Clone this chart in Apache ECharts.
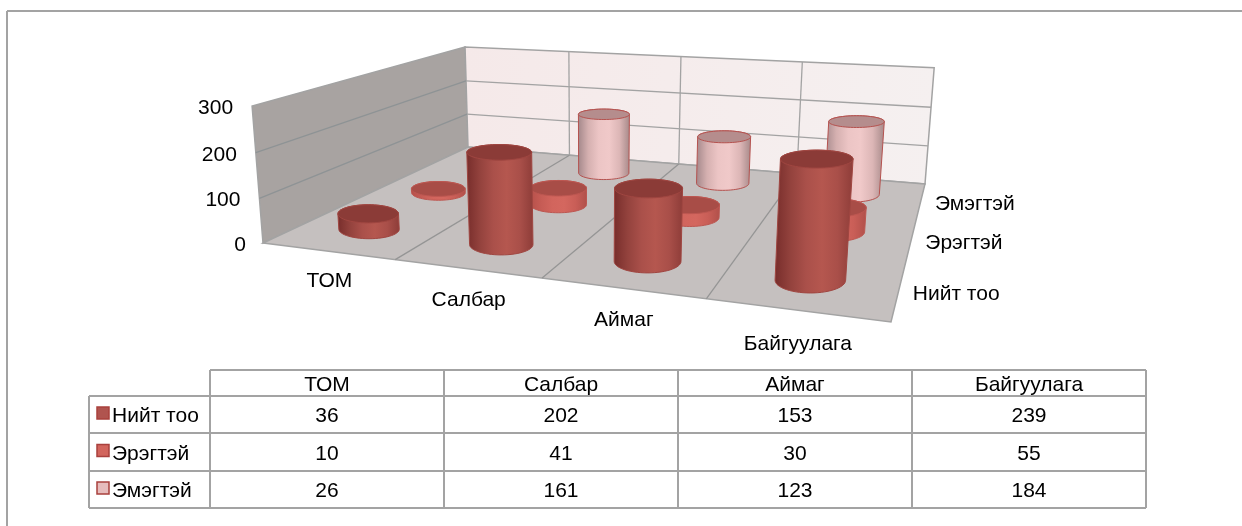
<!DOCTYPE html>
<html>
<head>
<meta charset="utf-8">
<title>chart</title>
<style>
  html, body { margin: 0; padding: 0; background: #fff; }
  #main { width: 1242px; height: 526px; }
</style>
<script src="https://cdn.jsdelivr.net/npm/echarts@6/dist/echarts.min.js"></script>
</head>
<body>
<div id="main"></div>
<script>
const categories = ['ТОМ', 'Салбар', 'Аймаг', 'Байгуулага']
const seriesNames = ['Нийт тоо', 'Эрэгтэй', 'Эмэгтэй']
const total = [36, 202, 153, 239]
const male = [10, 41, 30, 55]
const female = [26, 161, 123, 184]
const yTicks = [0, 100, 200, 300]

const FONT = '21px "Liberation Sans", Arial, sans-serif'
const LINE = '#a3a3a3'

// floor corners of the 3d box as they land on screen
const FL = [263, 243], FR = [891, 322], BR = [925, 184], BL = [468, 147]
// vertical edges of the box meet here, far below the page
const VP = [593, 4388]

// square -> quad homography
function makeFloor() {
  let dx1 = FR[0] - BR[0], dx2 = BL[0] - BR[0], sx = FL[0] - FR[0] + BR[0] - BL[0]
  let dy1 = FR[1] - BR[1], dy2 = BL[1] - BR[1], sy = FL[1] - FR[1] + BR[1] - BL[1]
  let den = dx1 * dy2 - dx2 * dy1
  let g = (sx * dy2 - dx2 * sy) / den
  let h = (dx1 * sy - sx * dy1) / den
  return {
    a: FR[0] - FL[0] + g * FR[0], b: BL[0] - FL[0] + h * BL[0], c: FL[0],
    d: FR[1] - FL[1] + g * FR[1], e: BL[1] - FL[1] + h * BL[1], f: FL[1],
    g, h
  }
}
const H = makeFloor()

// u along categories, v into the depth, w up the value axis (all 0..1)
const wallTops = [[0, 0, 105], [0, 1, 46], [1, 1, 70]]
let K = 0
wallTops.forEach(([u, v, top]) => {
  let W = H.g * u + H.h * v + 1
  let y = (H.d * u + H.e * v + H.f) / W
  K += W * (y - top) / (VP[1] - top)
})
K = K / wallTops.length

function depthScale(u, v, w) {
  return H.g * u + H.h * v + 1 - K * w
}

function project(u, v, w) {
  let X = H.a * u + H.b * v + H.c
  let Y = H.d * u + H.e * v + H.f
  let k = -K * w
  let W = depthScale(u, v, w)
  return [(X + k * VP[0]) / W, (Y + k * VP[1]) / W]
}

function hull(points) {
  let pts = points.slice().sort((p, q) => p[0] - q[0] || p[1] - q[1])
  let cross = (o, a, b) => (a[0] - o[0]) * (b[1] - o[1]) - (a[1] - o[1]) * (b[0] - o[0])
  let lower = [], upper = []
  pts.forEach(p => {
    while (lower.length > 1 && cross(lower[lower.length - 2], lower[lower.length - 1], p) <= 0) lower.pop()
    lower.push(p)
  })
  pts.reverse().forEach(p => {
    while (upper.length > 1 && cross(upper[upper.length - 2], upper[upper.length - 1], p) <= 0) upper.pop()
    upper.push(p)
  })
  return lower.slice(0, -1).concat(upper.slice(0, -1))
}

function gradient(stops) {
  return new echarts.graphic.LinearGradient(0, 0, 1, 0, stops.map((color, i) => ({ offset: i / (stops.length - 1), color })))
}

const looks = [
  { side: ['#772d2b', '#93423d', '#aa504a', '#b5574f', '#a94f49', '#8d3c38'], top: '#8b3b37', edge: '#a04641' },
  { side: ['#b5504a', '#c65c55', '#d2655d', '#d4675f', '#c95e57', '#b0504a'], top: '#a84d47', edge: '#bd5751' },
  { side: ['#a3878a', '#d5b0b0', '#ecc5c5', '#f0c9c9', '#dcb6b6', '#a58888'], top: '#b58d8d', edge: '#b5524f' }
]

const R0 = 31.4, RV = 0.077

// the cylinder ends stay level on screen, so they are built around the projected centre
function ring(u, v, w) {
  let c = project(u, v, w)
  let rx = R0 / depthScale(u, v, w)
  let ry = Math.abs(project(u, v + RV, w)[1] - project(u, v - RV, w)[1]) / 2
  let pts = []
  for (let i = 0; i < 60; i++) {
    let t = i / 60 * Math.PI * 2
    pts.push([c[0] + rx * Math.cos(t), c[1] + ry * Math.sin(t)])
  }
  return pts
}

function renderCylinder(s) {
  return function (params, api) {
    let sys = params.coordSys
    let p = api.coord([api.value(0), api.value(1)])
    let u = (p[0] - sys.x) / sys.width
    let w = (sys.y + sys.height - p[1]) / sys.height
    let v = (s + 0.5) / seriesNames.length
    let base = ring(u, v, 0)
    let top = ring(u, v, w)
    let look = looks[s]
    return {
      type: 'group',
      children: [
        { type: 'polygon', shape: { points: hull(base.concat(top)) }, style: { fill: gradient(look.side), stroke: look.edge, lineWidth: 1 } },
        { type: 'polygon', shape: { points: top }, style: { fill: look.top, stroke: look.edge, lineWidth: 1 } }
      ]
    }
  }
}

function renderBox() {
  let children = []
  let poly = (points, fill) => children.push({ type: 'polygon', shape: { points }, style: { fill, stroke: LINE, lineWidth: 1.5 } })
  let seg = (a, b, stroke) => children.push({ type: 'line', shape: { x1: a[0], y1: a[1], x2: b[0], y2: b[1] }, style: { stroke: stroke || LINE, lineWidth: 1.3 } })
  let text = (str, x, y, align) => children.push({ type: 'text', style: { text: str, x, y, font: FONT, fill: '#000', align, verticalAlign: 'middle' } })

  poly([project(0, 0, 0), project(0, 1, 0), project(0, 1, 1), project(0, 0, 1)], '#a8a3a1')
  poly([project(0, 1, 0), project(1, 1, 0), project(1, 1, 1), project(0, 1, 1)],
    new echarts.graphic.LinearGradient(0, 0, 1, 0, [{ offset: 0, color: '#f5e9e9' }, { offset: 1, color: '#f5f0f0' }]))
  poly([project(0, 0, 0), project(1, 0, 0), project(1, 1, 0), project(0, 1, 0)], '#c5c0bf')

  let top = yTicks[yTicks.length - 1]
  yTicks.forEach(t => {
    let w = t / top
    if (t > 0 && t < top) {
      seg(project(0, 0, w), project(0, 1, w), '#8e9395')
      seg(project(0, 1, w), project(1, 1, w))
    }
    let p = project(0, 0, w)
    text(String(t), p[0] - (t > 0 ? 19 : 17), p[1] + 2, 'right')
  })
  categories.forEach((name, i) => {
    let u = i / categories.length
    if (i > 0) {
      seg(project(u, 0, 0), project(u, 1, 0), '#959595')
      seg(project(u, 1, 0), project(u, 1, 1))
    }
    let p = project((i + 0.5) / categories.length, 0, 0)
    text(name, p[0] + 2, p[1] + 30 + 5 * u, 'center')
  })
  seriesNames.forEach((name, i) => {
    let p = project(1, (i + 0.5) / seriesNames.length, 0)
    text(name, p[0] + 14, p[1] + 4, 'left')
  })
  return { type: 'group', children }
}

// data table under the chart
const colX = [210, 444, 678, 912, 1146]
const rowY = [370, 396, 433, 471, 508]
const TABLE_LEFT = 89
const swatches = ['#b0544f', '#d2655d', '#e6bcbc']

function tableElements() {
  let els = []
  let line = (x1, y1, x2, y2) => els.push({ type: 'line', shape: { x1, y1, x2, y2 }, style: { stroke: LINE, lineWidth: 2 } })
  let label = (str, x, y, align) => els.push({ type: 'text', style: { text: str, x, y, font: FONT, fill: '#000', align, verticalAlign: 'middle' } })

  // outer chart frame, runs off the page
  line(7, 11, 1242, 11)
  line(7, 11, 7, 526)

  rowY.forEach((y, i) => line(i === 0 ? colX[0] : TABLE_LEFT, y, colX[4], y))
  colX.forEach(x => line(x, rowY[0], x, rowY[4]))
  line(TABLE_LEFT, rowY[1], TABLE_LEFT, rowY[4])

  categories.forEach((c, i) => label(c, (colX[i] + colX[i + 1]) / 2, (rowY[0] + rowY[1]) / 2 + 2, 'center'))
  ;[total, male, female].forEach((values, r) => {
    let y = (rowY[r + 1] + rowY[r + 2]) / 2 + 1
    els.push({ type: 'rect', shape: { x: 97, y: y - 8.5, width: 12, height: 12 }, style: { fill: swatches[r], stroke: '#a9403d', lineWidth: 1.5 } })
    label(seriesNames[r], 112, y + 1, 'left')
    values.forEach((v, i) => label(String(v), (colX[i] + colX[i + 1]) / 2, y + 1, 'center'))
  })
  return els
}

const values = [total, male, female]
const cylinders = [2, 1, 0].map(s => ({
  type: 'custom',
  name: seriesNames[s],
  renderItem: renderCylinder(s),
  data: values[s].map((v, i) => [i, v]),
  encode: { x: 0, y: 1 },
  z: 5 - s,
  silent: true
}))

const myChart = echarts.init(document.getElementById('main'), null, { renderer: 'canvas' })
myChart.setOption({
  backgroundColor: '#fff',
  animation: false,
  grid: { left: 263, right: 351, top: 105, bottom: 283 },
  xAxis: { type: 'category', data: categories, show: false },
  yAxis: { type: 'value', min: 0, max: 300, interval: 100, show: false },
  graphic: { elements: tableElements() },
  series: [{
    type: 'custom',
    renderItem: renderBox,
    data: [[0, 0]],
    encode: { x: 0, y: 1 },
    z: 1,
    silent: true
  }].concat(cylinders)
})
</script>
</body>
</html>
